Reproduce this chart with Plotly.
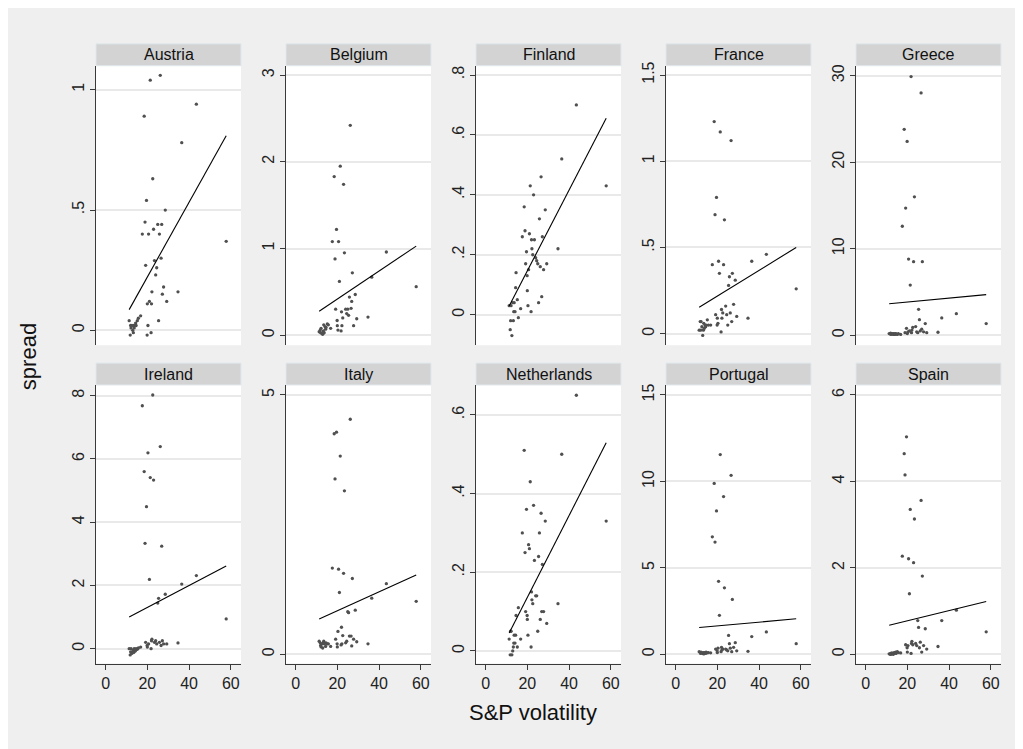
import plotly.graph_objects as go

# ---------------- data ----------------
countries = ["Austria", "Belgium", "Finland", "France", "Greece",
             "Ireland", "Italy", "Netherlands", "Portugal", "Spain"]

volatility = [11.3, 11.8, 12.0, 12.2, 12.6, 13.0, 13.3, 13.5, 13.7, 14.1,
              14.4, 14.6, 15.2, 15.7, 16.8, 17.6, 18.5, 18.9, 19.2, 19.6,
              19.9, 20.0, 20.3, 20.6, 21.0, 21.4, 21.8, 22.0, 22.2, 22.6,
              23.0, 23.4, 24.0, 24.5, 25.0, 25.4, 25.8, 26.2, 26.6, 26.9,
              27.2, 27.8, 28.6, 29.3, 34.7, 36.5, 43.5, 57.8]

spread_austria = [0.04, -0.02, 0.02, 0.01, 0.02, 0.0, -0.01, 0.02, 0.01, 0.02,
                  0.03, 0.02, 0.04, 0.05, 0.06, 0.40, 0.89, 0.45, 0.27, 0.54,
                  -0.02, 0.11, 0.02, 0.40, 0.12, 1.04, -0.01, 0.11, 0.16, 0.63,
                  0.42, 0.29, 0.23, 0.26, 0.44, 0.04, 0.40, 1.06, 0.30, 0.44,
                  0.15, 0.18, 0.50, 0.12, 0.16, 0.78, 0.94, 0.37]
spread_belgium = [0.04, 0.06, 0.03, 0.08, 0.02, 0.01, 0.05, 0.12, 0.03, 0.10,
                  0.07, 0.09, 0.13, 0.12, 0.08, 1.08, 1.83, 0.88, 0.30, 1.22,
                  0.17, 0.11, 0.06, 1.08, 0.62, 1.95, 0.05, 0.27, 0.11, 0.20,
                  1.74, 0.95, 0.30, 0.25, 0.30, 0.23, 0.44, 2.42, 0.31, 0.39,
                  0.72, 0.11, 0.47, 0.19, 0.21, 0.67, 0.96, 0.56]
spread_finland = [0.03, -0.05, -0.02, 0.03, -0.07, 0.04, -0.02, 0.01, 0.04, 0.01,
                  0.09, 0.14, 0.05, -0.01, 0.02, 0.26, 0.36, 0.28, 0.17, 0.21,
                  0.13, 0.08, 0.03, 0.15, 0.27, 0.43, 0.01, 0.25, 0.22, 0.20,
                  0.40, 0.25, 0.19, 0.18, 0.17, 0.04, 0.32, 0.16, 0.46, 0.06,
                  0.26, 0.15, 0.35, 0.17, 0.22, 0.52, 0.70, 0.43]
spread_france = [0.02, 0.07, 0.02, 0.07, 0.04, -0.01, 0.02, 0.06, 0.03, 0.05,
                 0.04, 0.05, 0.08, 0.05, 0.05, 0.40, 1.23, 0.69, 0.11, 0.79,
                 0.05, 0.09, 0.06, 0.42, 0.35, 1.17, 0.01, 0.14, 0.09, 0.12,
                 0.40, 0.66, 0.16, 0.11, 0.05, 0.28, 0.33, 0.12, 1.12, 0.07,
                 0.35, 0.17, 0.31, 0.10, 0.09, 0.42, 0.46, 0.26]
spread_greece = [0.2, 0.15, 0.25, 0.1, 0.2, 0.15, 0.1, 0.2, 0.15, 0.1,
                 0.2, 0.15, 0.1, 0.2, 0.1, 12.6, 23.8, 0.3, 14.7, 0.8,
                 22.4, 0.2, 0.4, 8.8, 0.5, 5.8, 29.9, 0.3, 0.6, 0.9,
                 8.5, 16.0, 1.0, 0.4, 0.3, 3.0, 1.8, 0.5, 28.0, 0.7,
                 8.5, 0.4, 1.35, 0.3, 0.35, 2.0, 2.5, 1.35]
spread_ireland = [0.0, -0.2, -0.1, 0.0, -0.15, -0.1, -0.05, -0.12, 0.0, -0.08,
                  -0.05, 0.0, -0.02, 0.02, 0.05, 7.68, 5.60, 3.33, 0.2, 4.49,
                  0.1, 0.05, 6.19, 0.15, 2.19, 5.41, 0.0, 0.25, 0.3, 8.02,
                  5.33, 0.2, 0.25, 0.15, 1.44, 1.59, 0.2, 6.39, 0.1, 3.24,
                  0.25, 0.15, 1.72, 0.15, 0.18, 2.04, 2.31, 0.94]
spread_italy = [0.25, 0.22, 0.17, 0.14, 0.2, 0.12, 0.22, 0.25, 0.2, 0.21,
                0.15, 0.22, 0.2, 0.2, 0.15, 1.66, 4.25, 3.38, 0.29, 4.28,
                0.2, 0.14, 0.44, 1.64, 1.19, 3.82, 0.18, 0.52, 0.2, 0.36,
                1.56, 3.15, 0.22, 0.25, 0.82, 0.80, 0.35, 4.53, 0.35, 0.16,
                1.46, 0.29, 0.85, 0.24, 0.2, 1.08, 1.36, 1.02]
spread_netherlands = [0.03, -0.01, 0.05, 0.05, -0.01, 0.0, 0.01, 0.02, 0.04, 0.02,
                      0.04, 0.09, 0.01, 0.11, 0.03, 0.30, 0.51, 0.25, 0.10, 0.36,
                      0.09, 0.08, 0.04, 0.27, 0.26, 0.43, 0.01, 0.15, 0.13, 0.12,
                      0.37, 0.23, 0.14, 0.14, 0.05, 0.24, 0.30, 0.08, 0.35, 0.10,
                      0.22, 0.10, 0.33, 0.07, 0.12, 0.50, 0.65, 0.33]
spread_portugal = [0.15, 0.1, 0.05, 0.12, 0.08, 0.05, 0.1, 0.02, 0.08, 0.1,
                   0.05, 0.12, 0.08, 0.1, 0.08, 6.79, 9.88, 6.49, 0.3, 8.29,
                   0.2, 0.1, 0.35, 4.22, 2.25, 11.55, 0.15, 0.4, 0.25, 0.3,
                   9.12, 3.84, 0.3, 0.25, 0.2, 1.09, 0.61, 0.35, 10.35, 0.15,
                   3.17, 0.4, 0.67, 0.2, 0.17, 1.02, 1.29, 0.61]
spread_spain = [0.01, 0.0, 0.02, 0.0, 0.03, 0.01, 0.0, 0.02, 0.04, 0.03,
                0.05, 0.02, 0.06, 0.04, 0.03, 2.27, 4.64, 4.15, 0.22, 5.03,
                0.15, 0.05, 0.2, 2.21, 1.40, 3.35, 0.02, 0.25, 0.3, 0.22,
                2.12, 3.13, 0.25, 0.2, 0.78, 0.62, 0.15, 0.28, 3.56, 0.05,
                1.81, 0.2, 0.59, 0.12, 0.18, 0.78, 1.02, 0.52]

spreads = [spread_austria, spread_belgium, spread_finland, spread_france,
           spread_greece, spread_ireland, spread_italy, spread_netherlands,
           spread_portugal, spread_spain]

# fitted-line coefficients
fit_intercepts = [-0.0897, 0.0933, -0.1234, 0.0687, 3.397,
                  0.605, 0.471, -0.072, 1.4285, 0.536]
fit_slopes = [0.01555, 0.01617, 0.01348, 0.00746, 0.02237,
              0.03469, 0.01828, 0.0104, 0.01075, 0.01183]

y_tickvals = [[0, 0.5, 1], [0, 1, 2, 3], [0, 0.2, 0.4, 0.6, 0.8], [0, 0.5, 1, 1.5],
              [0, 10, 20, 30], [0, 2, 4, 6, 8], [0, 5], [0, 0.2, 0.4, 0.6],
              [0, 5, 10, 15], [0, 2, 4, 6]]
y_ticktext = [["0", ".5", "1"], ["0", "1", "2", "3"], ["0", ".2", ".4", ".6", ".8"],
              ["0", ".5", "1", "1.5"], ["0", "10", "20", "30"], ["0", "2", "4", "6", "8"],
              ["0", "5"], ["0", ".2", ".4", ".6"], ["0", "5", "10", "15"], ["0", "2", "4", "6"]]
x_tickvals = [0, 20, 40, 60]
x_ticktext = ["0", "20", "40", "60"]

# ---------------- layout geometry ----------------
W, H = 1023, 749
OFF = 8  # page body margin in the screenshot
y_ranges = [[-0.062, 1.10], [-0.115, 3.108], [-0.102, 0.831], [-0.067, 1.554],
            [-1.15, 31.15], [-0.47, 8.336], [-0.179, 5.19], [-0.032, 0.676],
            [-0.535, 15.575], [-0.214, 6.23]]
x_range = [-4.6, 64.9]
col_left = [96 - OFF, 286 - OFF, 476 - OFF, 666 - OFF, 856 - OFF]
panel_w = 145
row_top = [62 - OFF, 383 - OFF]
row_bot = [343 - OFF, 663 - OFF]
strip_h = 22

FONT = "Liberation Sans, Arial, sans-serif"
AX = "#3a3a3a"
TICK_FONT = dict(size=16, family=FONT, color="#222222")

fig = go.Figure()
layout = dict(
    width=W, height=H,
    margin=dict(l=0, r=0, t=0, b=0),
    paper_bgcolor="#efefef",
    plot_bgcolor="white",
    showlegend=False,
    font=dict(family=FONT, color="#222222"),
    shapes=[], annotations=[],
)

xmin, xmax = min(volatility), max(volatility)
for i, name in enumerate(countries):
    r, c = divmod(i, 5)
    k = i + 1
    xa = "x" if k == 1 else f"x{k}"
    ya = "y" if k == 1 else f"y{k}"
    fig.add_trace(go.Scatter(
        x=volatility, y=spreads[i], mode="markers",
        marker=dict(size=3.3, color="#505050"),
        xaxis=xa, yaxis=ya, hoverinfo="skip"))
    fx = [xmin, xmax]
    fy = [fit_intercepts[i] + fit_slopes[i] * v for v in fx]
    fig.add_trace(go.Scatter(
        x=fx, y=fy, mode="lines", line=dict(color="black", width=1.1),
        xaxis=xa, yaxis=ya, hoverinfo="skip"))

    x0 = col_left[c] / W
    x1 = (col_left[c] + panel_w) / W
    y0 = 1 - row_bot[r] / H
    y1 = 1 - row_top[r] / H
    bottom_row = (r == 1)
    layout["xaxis" + ("" if k == 1 else str(k))] = dict(
        domain=[x0, x1], range=x_range, anchor=ya,
        showgrid=False, zeroline=False,
        showline=bottom_row, linecolor=AX, linewidth=1,
        ticks="outside" if bottom_row else "", ticklen=5, tickcolor=AX,
        showticklabels=bottom_row, tickvals=x_tickvals, ticktext=x_ticktext,
        tickfont=TICK_FONT,
    )
    layout["yaxis" + ("" if k == 1 else str(k))] = dict(
        domain=[y0, y1], range=y_ranges[i], anchor=xa,
        showgrid=True, gridcolor="#e9e9e9", gridwidth=1.6, zeroline=False,
        showline=True, linecolor=AX, linewidth=1,
        ticks="outside", ticklen=5, tickcolor=AX,
        tickvals=y_tickvals[i], ticktext=y_ticktext[i], tickangle=-90,
        tickfont=TICK_FONT,
    )
    # header strip
    layout["shapes"].append(dict(
        type="rect", xref="paper", yref="paper",
        x0=x0, x1=x1, y0=y1, y1=1 - (row_top[r] - strip_h) / H,
        fillcolor="#d3d3d3", line=dict(color="#e0e8ec", width=1)))
    layout["annotations"].append(dict(
        xref="paper", yref="paper", x=(x0 + x1) / 2,
        y=1 - (row_top[r] - strip_h / 2) / H, text=name, showarrow=False,
        xanchor="center", yanchor="middle",
        font=dict(size=16, family=FONT, color="#111111")))

layout["annotations"].append(dict(
    xref="paper", yref="paper", x=(533 - OFF) / W, y=1 - (712 - OFF) / H,
    text="S&P volatility", showarrow=False, xanchor="center", yanchor="middle",
    font=dict(size=22, family=FONT, color="#111111")))
layout["annotations"].append(dict(
    xref="paper", yref="paper", x=(28 - OFF) / W, y=1 - (355 - OFF) / H,
    text="spread", showarrow=False, xanchor="center", yanchor="middle",
    textangle=-90, font=dict(size=22, family=FONT, color="#111111")))

fig.update_layout(**layout)
fig.write_html("out.html")
